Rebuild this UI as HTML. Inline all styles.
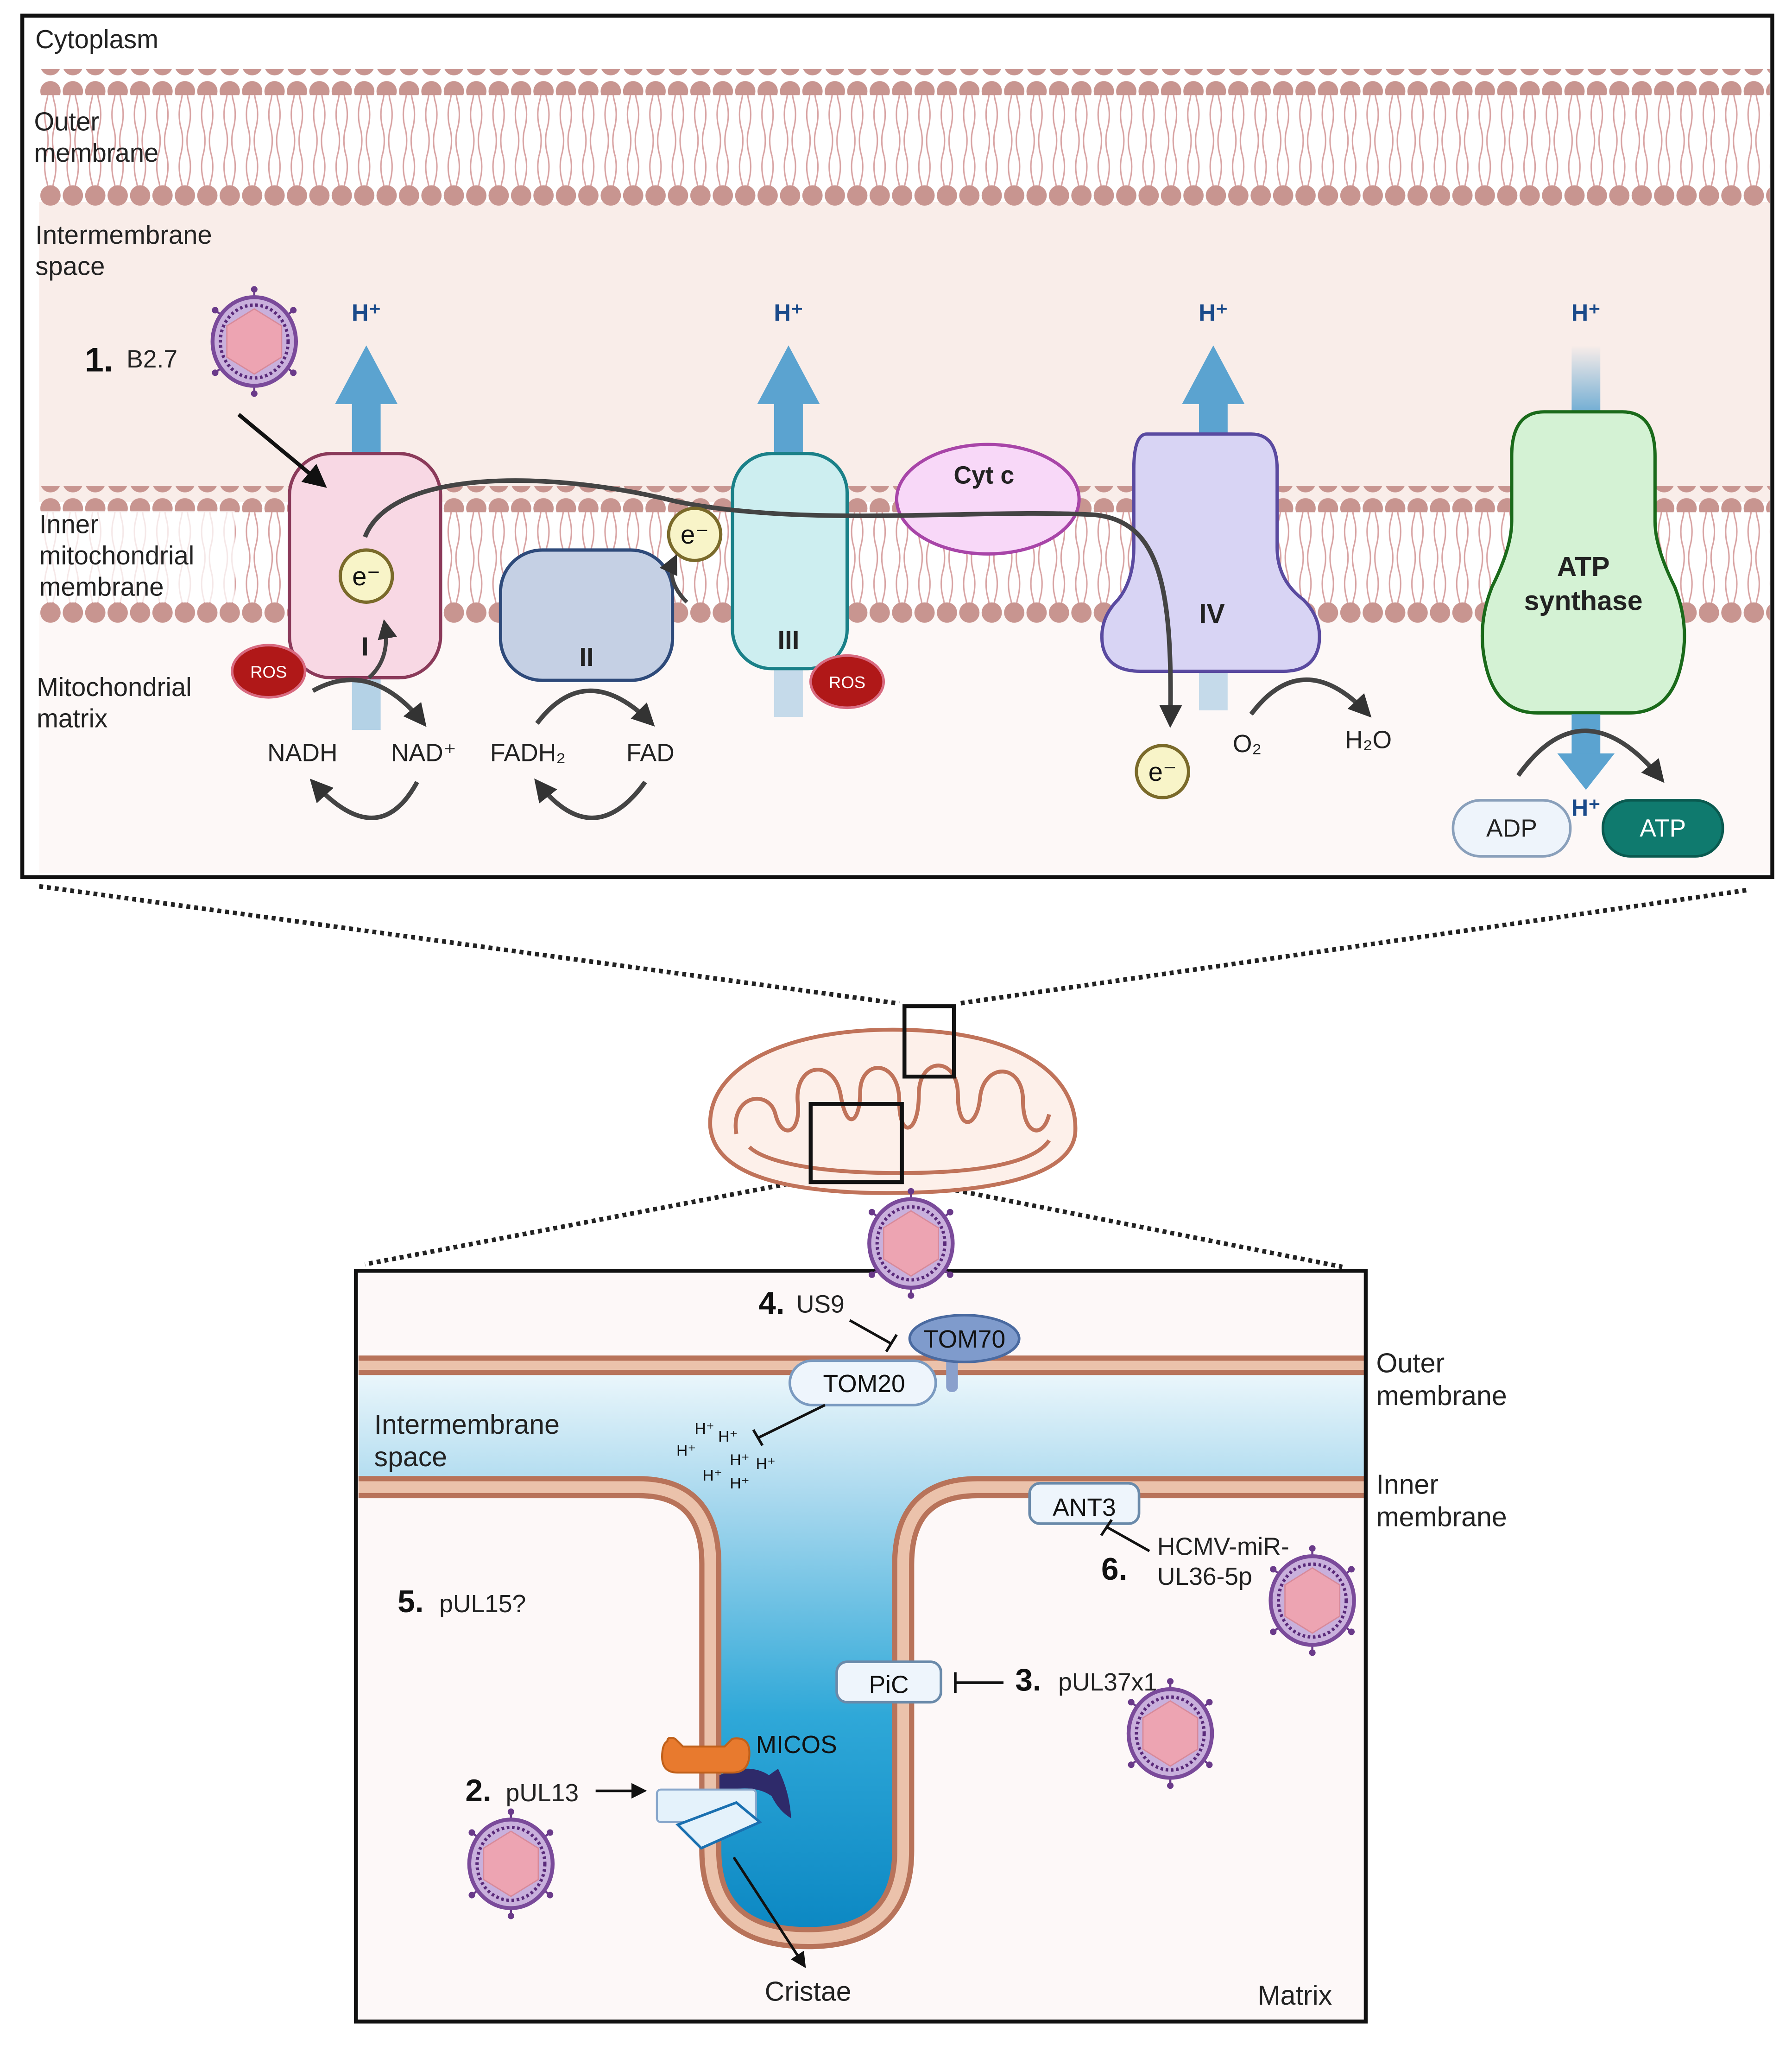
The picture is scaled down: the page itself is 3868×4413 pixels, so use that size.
<!DOCTYPE html>
<html><head><meta charset="utf-8"><style>html,body{margin:0;padding:0;background:#fff}svg{display:block}text{font-family:"Liberation Sans",sans-serif}</style></head><body>
<svg width="3868" height="4413" viewBox="0 0 1375 1569" xmlns="http://www.w3.org/2000/svg">
<defs>
<pattern id="heads" x="30" y="0" width="17.2" height="20" patternUnits="userSpaceOnUse"><circle cx="8.6" cy="10" r="7.8" fill="#c89590"/></pattern>
<pattern id="tails" x="30" y="0" width="17.2" height="40" patternUnits="userSpaceOnUse"><path d="M5,0 q-2,10 1,20 q2,10 -1,20 M12,0 q2,10 -1,20 q-2,10 1,20" stroke="#d8a3a3" stroke-width="1.1" fill="none"/></pattern>
<linearGradient id="ims" x1="0" y1="1055" x2="0" y2="1490" gradientUnits="userSpaceOnUse"><stop offset="0" stop-color="#eaf6fb"/><stop offset="0.22" stop-color="#a8d8ee"/><stop offset="0.6" stop-color="#2fa8d8"/><stop offset="1" stop-color="#0a86c2"/></linearGradient>
<linearGradient id="fadeup" x1="0" y1="0" x2="0" y2="1"><stop offset="0" stop-color="#5ba3d0" stop-opacity="0"/><stop offset="1" stop-color="#5ba3d0"/></linearGradient>
<marker id="ah" viewBox="0 0 10 10" refX="8" refY="5" markerWidth="5" markerHeight="5" orient="auto"><path d="M0,0 L10,5 L0,10 z" fill="#333"/></marker>
<marker id="ahk" viewBox="0 0 10 10" refX="8" refY="5" markerWidth="6" markerHeight="6" orient="auto"><path d="M0,0 L10,5 L0,10 z" fill="#111"/></marker>
<g id="virus">
<g stroke="#6a3a8a" stroke-width="1.6"><line x1="0" y1="-40" x2="0" y2="40"/><line x1="-30" y1="-24" x2="30" y2="24"/><line x1="30" y1="-24" x2="-30" y2="24"/></g>
<g fill="#6a3a8a"><circle cx="0" cy="-40" r="2.5"/><circle cx="0" cy="40" r="2.5"/><circle cx="-30" cy="-24" r="2.5"/><circle cx="30" cy="24" r="2.5"/><circle cx="30" cy="-24" r="2.5"/><circle cx="-30" cy="24" r="2.5"/></g>
<ellipse rx="32" ry="34" fill="#c9b0dc" stroke="#7a4a9a" stroke-width="3"/>
<ellipse rx="26" ry="28" fill="none" stroke="#5a2a7a" stroke-width="2.5" stroke-dasharray="2 2"/>
<polygon points="0,-25 21,-12 21,12 0,25 -21,12 -21,-12" fill="#eda4b2" stroke="#d88a9a" stroke-width="1"/>
</g>
<g id="ros"><ellipse rx="28" ry="20" fill="#b01818" stroke="#d86a80" stroke-width="2"/><text y="5" text-anchor="middle" font-size="13" fill="#fff">ROS</text></g>
<g id="em"><circle r="20" fill="#f8f4c8" stroke="#7a6a2a" stroke-width="2.5"/><text y="7" text-anchor="middle" font-size="20" fill="#111">e⁻</text></g>
</defs>

<rect x="17" y="12" width="1343" height="661" fill="#fff"/>
<rect x="30" y="155" width="1328" height="230" fill="#f9ede9"/>
<rect x="30" y="470" width="1328" height="200" fill="#fdf8f7"/>
<rect x="30" y="68" width="1328" height="76" fill="url(#tails)"/>
<rect x="30" y="53" width="1328" height="20" fill="url(#heads)"/>
<rect x="30" y="139" width="1328" height="20" fill="url(#heads)"/>
<rect x="30" y="388" width="1328" height="78" fill="url(#tails)"/>
<rect x="30" y="373" width="1328" height="20" fill="url(#heads)"/>
<rect x="30" y="460" width="1328" height="20" fill="url(#heads)"/>
<rect x="30" y="392" width="150" height="70" fill="#fff" opacity="0.75"/>
<rect x="17" y="12" width="1343" height="661" fill="none" stroke="#111" stroke-width="3"/>

<text x="27" y="37" font-size="20" fill="#222">Cytoplasm</text>
<text x="26" y="100" font-size="20" fill="#222">Outer</text><text x="26" y="124" font-size="20" fill="#222">membrane</text>
<text x="27" y="187" font-size="20" fill="#222">Intermembrane</text><text x="27" y="211" font-size="20" fill="#222">space</text>
<text x="30" y="409" font-size="20" fill="#222">Inner</text><text x="30" y="433" font-size="20" fill="#222">mitochondrial</text><text x="30" y="457" font-size="20" fill="#222">membrane</text>
<text x="28" y="534" font-size="20" fill="#222">Mitochondrial</text><text x="28" y="558" font-size="20" fill="#222">matrix</text>

<g fill="#5ba3d0">
<rect x="270" y="300" width="22" height="55"/><polygon points="257,310 281,265 305,310"/>
<rect x="594" y="300" width="22" height="55"/><polygon points="581,310 605,265 629,310"/>
<rect x="920" y="300" width="22" height="40"/><polygon points="907,310 931,265 955,310"/>
</g>
<rect x="1206" y="265" width="22" height="60" fill="url(#fadeup)"/>
<rect x="270" y="515" width="22" height="45" fill="#5ba3d0" opacity="0.45"/>
<rect x="594" y="505" width="22" height="45" fill="#5ba3d0" opacity="0.35"/>
<rect x="920" y="505" width="22" height="40" fill="#5ba3d0" opacity="0.35"/>
<g font-size="18" font-weight="bold" fill="#1a4a8a" text-anchor="middle">
<text x="281" y="246">H⁺</text><text x="605" y="246">H⁺</text><text x="931" y="246">H⁺</text><text x="1217" y="246">H⁺</text></g>

<rect x="222" y="348" width="116" height="172" rx="32" fill="#f8d8e4" stroke="#8b3a5a" stroke-width="2.5"/>
<text x="280" y="503" font-size="20" font-weight="bold" text-anchor="middle" fill="#222">I</text>
<rect x="384" y="422" width="132" height="100" rx="32" fill="#c5d0e4" stroke="#2e4a7a" stroke-width="2.5"/>
<text x="450" y="511" font-size="20" font-weight="bold" text-anchor="middle" fill="#222">II</text>
<rect x="562" y="348" width="88" height="165" rx="30" fill="#cdeef0" stroke="#1a8088" stroke-width="2.5"/>
<text x="605" y="498" font-size="20" font-weight="bold" text-anchor="middle" fill="#222">III</text>
<ellipse cx="758" cy="383" rx="70" ry="42" fill="#f8d8f8" stroke="#a845a8" stroke-width="2.5"/>
<text x="755" y="371" font-size="19" font-weight="bold" text-anchor="middle" fill="#222">Cyt c</text>
<path d="M880,333 H960 Q980,333 980,360 V420 Q980,445 1000,460 Q1015,475 1012,495 Q1008,515 985,515 H875 Q850,515 846,495 Q843,475 858,460 Q870,445 870,420 V360 Q870,333 880,333 Z" fill="#d8d4f4" stroke="#5a4aa0" stroke-width="2.5"/>
<text x="930" y="478" font-size="21" font-weight="bold" text-anchor="middle" fill="#222">IV</text>
<path d="M1185,316 H1245 Q1270,316 1270,350 V400 Q1270,420 1285,450 Q1297,480 1290,510 Q1282,547 1250,547 H1180 Q1148,547 1140,510 Q1133,480 1145,450 Q1160,420 1160,400 V350 Q1160,316 1185,316 Z" fill="#d4f2d4" stroke="#1a6a1a" stroke-width="2.5"/>
<text x="1215" y="442" font-size="21" font-weight="bold" text-anchor="middle" fill="#222">ATP</text>
<text x="1215" y="468" font-size="21" font-weight="bold" text-anchor="middle" fill="#222">synthase</text>
<rect x="1206" y="548" width="22" height="32" fill="#5ba3d0"/><polygon points="1195,578 1217,606 1239,578" fill="#5ba3d0"/>
<text x="1217" y="626" font-size="18" font-weight="bold" fill="#1a4a8a" text-anchor="middle">H⁺</text>

<path d="M280,412 C300,360 420,360 520,385 C620,405 750,390 840,395 C890,400 900,450 898,555" fill="none" stroke="#444" stroke-width="3.5" marker-end="url(#ah)"/>
<use href="#em" x="281" y="442"/>
<use href="#em" x="533" y="410"/>
<use href="#em" x="892" y="592"/>
<path d="M527,462 Q510,445 518,428" fill="none" stroke="#444" stroke-width="3" marker-end="url(#ah)"/>
<path d="M283,520 Q300,505 295,478" fill="none" stroke="#444" stroke-width="3" marker-end="url(#ah)"/>
<use href="#ros" x="206" y="515"/>
<use href="#ros" x="650" y="523"/>

<g fill="none" stroke="#444" stroke-width="3.5">
<path d="M240,530 Q285,505 325,555" marker-end="url(#ah)"/>
<path d="M320,600 Q290,655 240,600" marker-end="url(#ah)"/>
<path d="M412,555 Q450,505 500,555" marker-end="url(#ah)"/>
<path d="M495,600 Q455,655 412,600" marker-end="url(#ah)"/>
<path d="M960,548 Q1000,495 1050,548" marker-end="url(#ah)"/>
<path d="M1165,595 Q1215,525 1275,598" marker-end="url(#ah)"/>
</g>
<g font-size="19" fill="#222" text-anchor="middle">
<text x="232" y="584">NADH</text><text x="325" y="584">NAD⁺</text><text x="405" y="584">FADH₂</text><text x="499" y="584">FAD</text>
<text x="957" y="577">O₂</text><text x="1050" y="574">H₂O</text></g>
<rect x="1115" y="614" width="90" height="43" rx="21" fill="#eef4fb" stroke="#8aa0bb" stroke-width="2"/>
<text x="1160" y="642" font-size="19" text-anchor="middle" fill="#222">ADP</text>
<rect x="1230" y="614" width="92" height="43" rx="21" fill="#0f7a6e" stroke="#0a5a50" stroke-width="2"/>
<text x="1276" y="642" font-size="19" text-anchor="middle" fill="#fff">ATP</text>

<use href="#virus" x="195" y="262"/>
<text x="65" y="285" font-size="26" font-weight="bold" fill="#111">1.</text><text x="97" y="282" font-size="19" fill="#222">B2.7</text>
<line x1="183" y1="318" x2="248" y2="372" stroke="#111" stroke-width="3" marker-end="url(#ahk)"/>

<g stroke="#222" stroke-width="3.5" stroke-dasharray="3 3" fill="none">
<line x1="30" y1="680" x2="690" y2="770"/><line x1="1340" y1="683" x2="735" y2="770"/>
<line x1="622" y1="905" x2="280" y2="970"/><line x1="692" y1="905" x2="1030" y2="972"/>
</g>

<path d="M685,790 C790,790 828,830 825,870 C820,910 730,917 660,915 C585,912 548,895 545,865 C542,820 600,790 685,790 Z" fill="#fdf0ea" stroke="#c0735a" stroke-width="3"/>
<path d="M565,870 C560,840 590,835 595,855 C600,875 615,870 612,845 C610,815 640,812 645,840 C650,870 660,860 660,838 C660,812 690,812 690,845 C690,875 705,870 705,840 C705,810 735,810 735,840 C735,870 750,865 752,842 C755,815 785,815 785,845 C785,870 800,875 805,855" fill="none" stroke="#c0735a" stroke-width="3"/>
<path d="M575,880 C585,890 620,900 690,900 C760,900 795,890 805,875" fill="none" stroke="#c0735a" stroke-width="3"/>
<rect x="694" y="772" width="38" height="54" fill="none" stroke="#111" stroke-width="3"/>
<rect x="622" y="847" width="70" height="60" fill="none" stroke="#111" stroke-width="3"/>

<rect x="273" y="975" width="775" height="576" fill="#fdf8f8"/>
<path d="M275,1055 H1048 V1141 H750 Q693,1141 693,1200 V1420 Q693,1487 620,1487 Q545,1487 545,1420 V1200 Q545,1141 490,1141 H275 Z" fill="url(#ims)"/>
<path d="M275,1141 H490 Q545,1141 545,1200 V1420 Q545,1487 620,1487 Q693,1487 693,1420 V1200 Q693,1141 750,1141 H1048" fill="none" stroke="#b8735a" stroke-width="17"/>
<path d="M275,1141 H490 Q545,1141 545,1200 V1420 Q545,1487 620,1487 Q693,1487 693,1420 V1200 Q693,1141 750,1141 H1048" fill="none" stroke="#ebc2ab" stroke-width="9"/>
<rect x="275" y="1040" width="773" height="15" fill="#b8735a"/>
<rect x="275" y="1044" width="773" height="7" fill="#ebc2ab"/>
<rect x="273" y="975" width="775" height="576" fill="none" stroke="#111" stroke-width="3"/>

<text x="1056" y="1053" font-size="21" fill="#222">Outer</text><text x="1056" y="1078" font-size="21" fill="#222">membrane</text>
<text x="1056" y="1146" font-size="21" fill="#222">Inner</text><text x="1056" y="1171" font-size="21" fill="#222">membrane</text>
<text x="287" y="1100" font-size="21" fill="#222">Intermembrane</text><text x="287" y="1125" font-size="21" fill="#222">space</text>

<use href="#virus" x="699" y="954"/>
<text x="582" y="1008" font-size="24" font-weight="bold" fill="#111">4.</text><text x="611" y="1007" font-size="19" fill="#222">US9</text>
<line x1="652" y1="1013" x2="684" y2="1031" stroke="#111" stroke-width="2"/><line x1="680" y1="1037" x2="688" y2="1024" stroke="#111" stroke-width="2"/>
<rect x="726" y="1040" width="9" height="28" rx="4" fill="#8aa0cc"/>
<ellipse cx="740" cy="1027" rx="42" ry="18" fill="#7f9bcc" stroke="#4a6aa0" stroke-width="2"/>
<text x="740" y="1034" font-size="19" text-anchor="middle" fill="#111">TOM70</text>
<rect x="606" y="1044" width="112" height="34" rx="17" fill="#eef5fc" stroke="#7a9ac0" stroke-width="2"/>
<text x="663" y="1068" font-size="19" text-anchor="middle" fill="#111">TOM20</text>
<line x1="633" y1="1078" x2="582" y2="1103" stroke="#111" stroke-width="2"/><line x1="578" y1="1097" x2="585" y2="1109" stroke="#111" stroke-width="2"/>
<g font-size="12" fill="#111"><text x="533" y="1100">H⁺</text><text x="551" y="1106">H⁺</text><text x="519" y="1117">H⁺</text><text x="560" y="1124">H⁺</text><text x="580" y="1127">H⁺</text><text x="539" y="1136">H⁺</text><text x="560" y="1142">H⁺</text></g>

<rect x="790" y="1138" width="84" height="31" rx="8" fill="#eef5fc" stroke="#6a8aaa" stroke-width="2"/>
<text x="832" y="1163" font-size="19" text-anchor="middle" fill="#111">ANT3</text>
<line x1="882" y1="1190" x2="850" y2="1172" stroke="#111" stroke-width="2"/><line x1="845" y1="1178" x2="853" y2="1166" stroke="#111" stroke-width="2"/>
<text x="888" y="1193" font-size="19" fill="#222">HCMV-miR-</text><text x="888" y="1216" font-size="19" fill="#222">UL36-5p</text>
<text x="845" y="1212" font-size="24" font-weight="bold" fill="#111">6.</text>
<use href="#virus" x="1007" y="1228"/>

<text x="305" y="1237" font-size="24" font-weight="bold" fill="#111">5.</text><text x="337" y="1237" font-size="19" fill="#222">pUL15?</text>

<rect x="642" y="1275" width="80" height="31" rx="8" fill="#eef5fc" stroke="#6a8aaa" stroke-width="2"/>
<text x="682" y="1299" font-size="19" text-anchor="middle" fill="#111">PiC</text>
<line x1="733" y1="1291" x2="770" y2="1291" stroke="#111" stroke-width="2"/><line x1="733" y1="1283" x2="733" y2="1299" stroke="#111" stroke-width="2"/>
<text x="779" y="1297" font-size="24" font-weight="bold" fill="#111">3.</text><text x="812" y="1297" font-size="19" fill="#222">pUL37x1</text>
<use href="#virus" x="898" y="1330"/>

<path d="M552,1362 Q575,1352 590,1362 L597,1357 Q606,1375 607,1395 Q598,1390 592,1378 Q578,1368 552,1375 Z" fill="#2e2a6a"/>
<path d="M512,1336 Q512,1332 518,1334 L524,1340 H556 L562,1334 Q575,1332 575,1345 Q575,1360 562,1360 H520 Q508,1360 508,1348 Q508,1338 512,1336 Z" fill="#e87a2e" stroke="#c0601a" stroke-width="1.5"/>
<rect x="504" y="1373" width="76" height="25" rx="3" fill="#e4f2fb" stroke="#8aa8cc" stroke-width="1.5"/>
<polygon points="520,1400 565,1383 583,1398 538,1418" fill="#e4f2fb" stroke="#1a70b0" stroke-width="2"/>
<text x="580" y="1345" font-size="19" fill="#111">MICOS</text>
<text x="357" y="1382" font-size="24" font-weight="bold" fill="#111">2.</text><text x="388" y="1382" font-size="19" fill="#222">pUL13</text>
<line x1="457" y1="1374" x2="494" y2="1374" stroke="#111" stroke-width="2" marker-end="url(#ahk)"/>
<use href="#virus" x="392" y="1430"/>
<line x1="563" y1="1425" x2="617" y2="1508" stroke="#111" stroke-width="2" marker-end="url(#ahk)"/>
<text x="620" y="1535" font-size="21" text-anchor="middle" fill="#222">Cristae</text>
<text x="965" y="1538" font-size="21" fill="#222">Matrix</text>
</svg>
</body></html>
